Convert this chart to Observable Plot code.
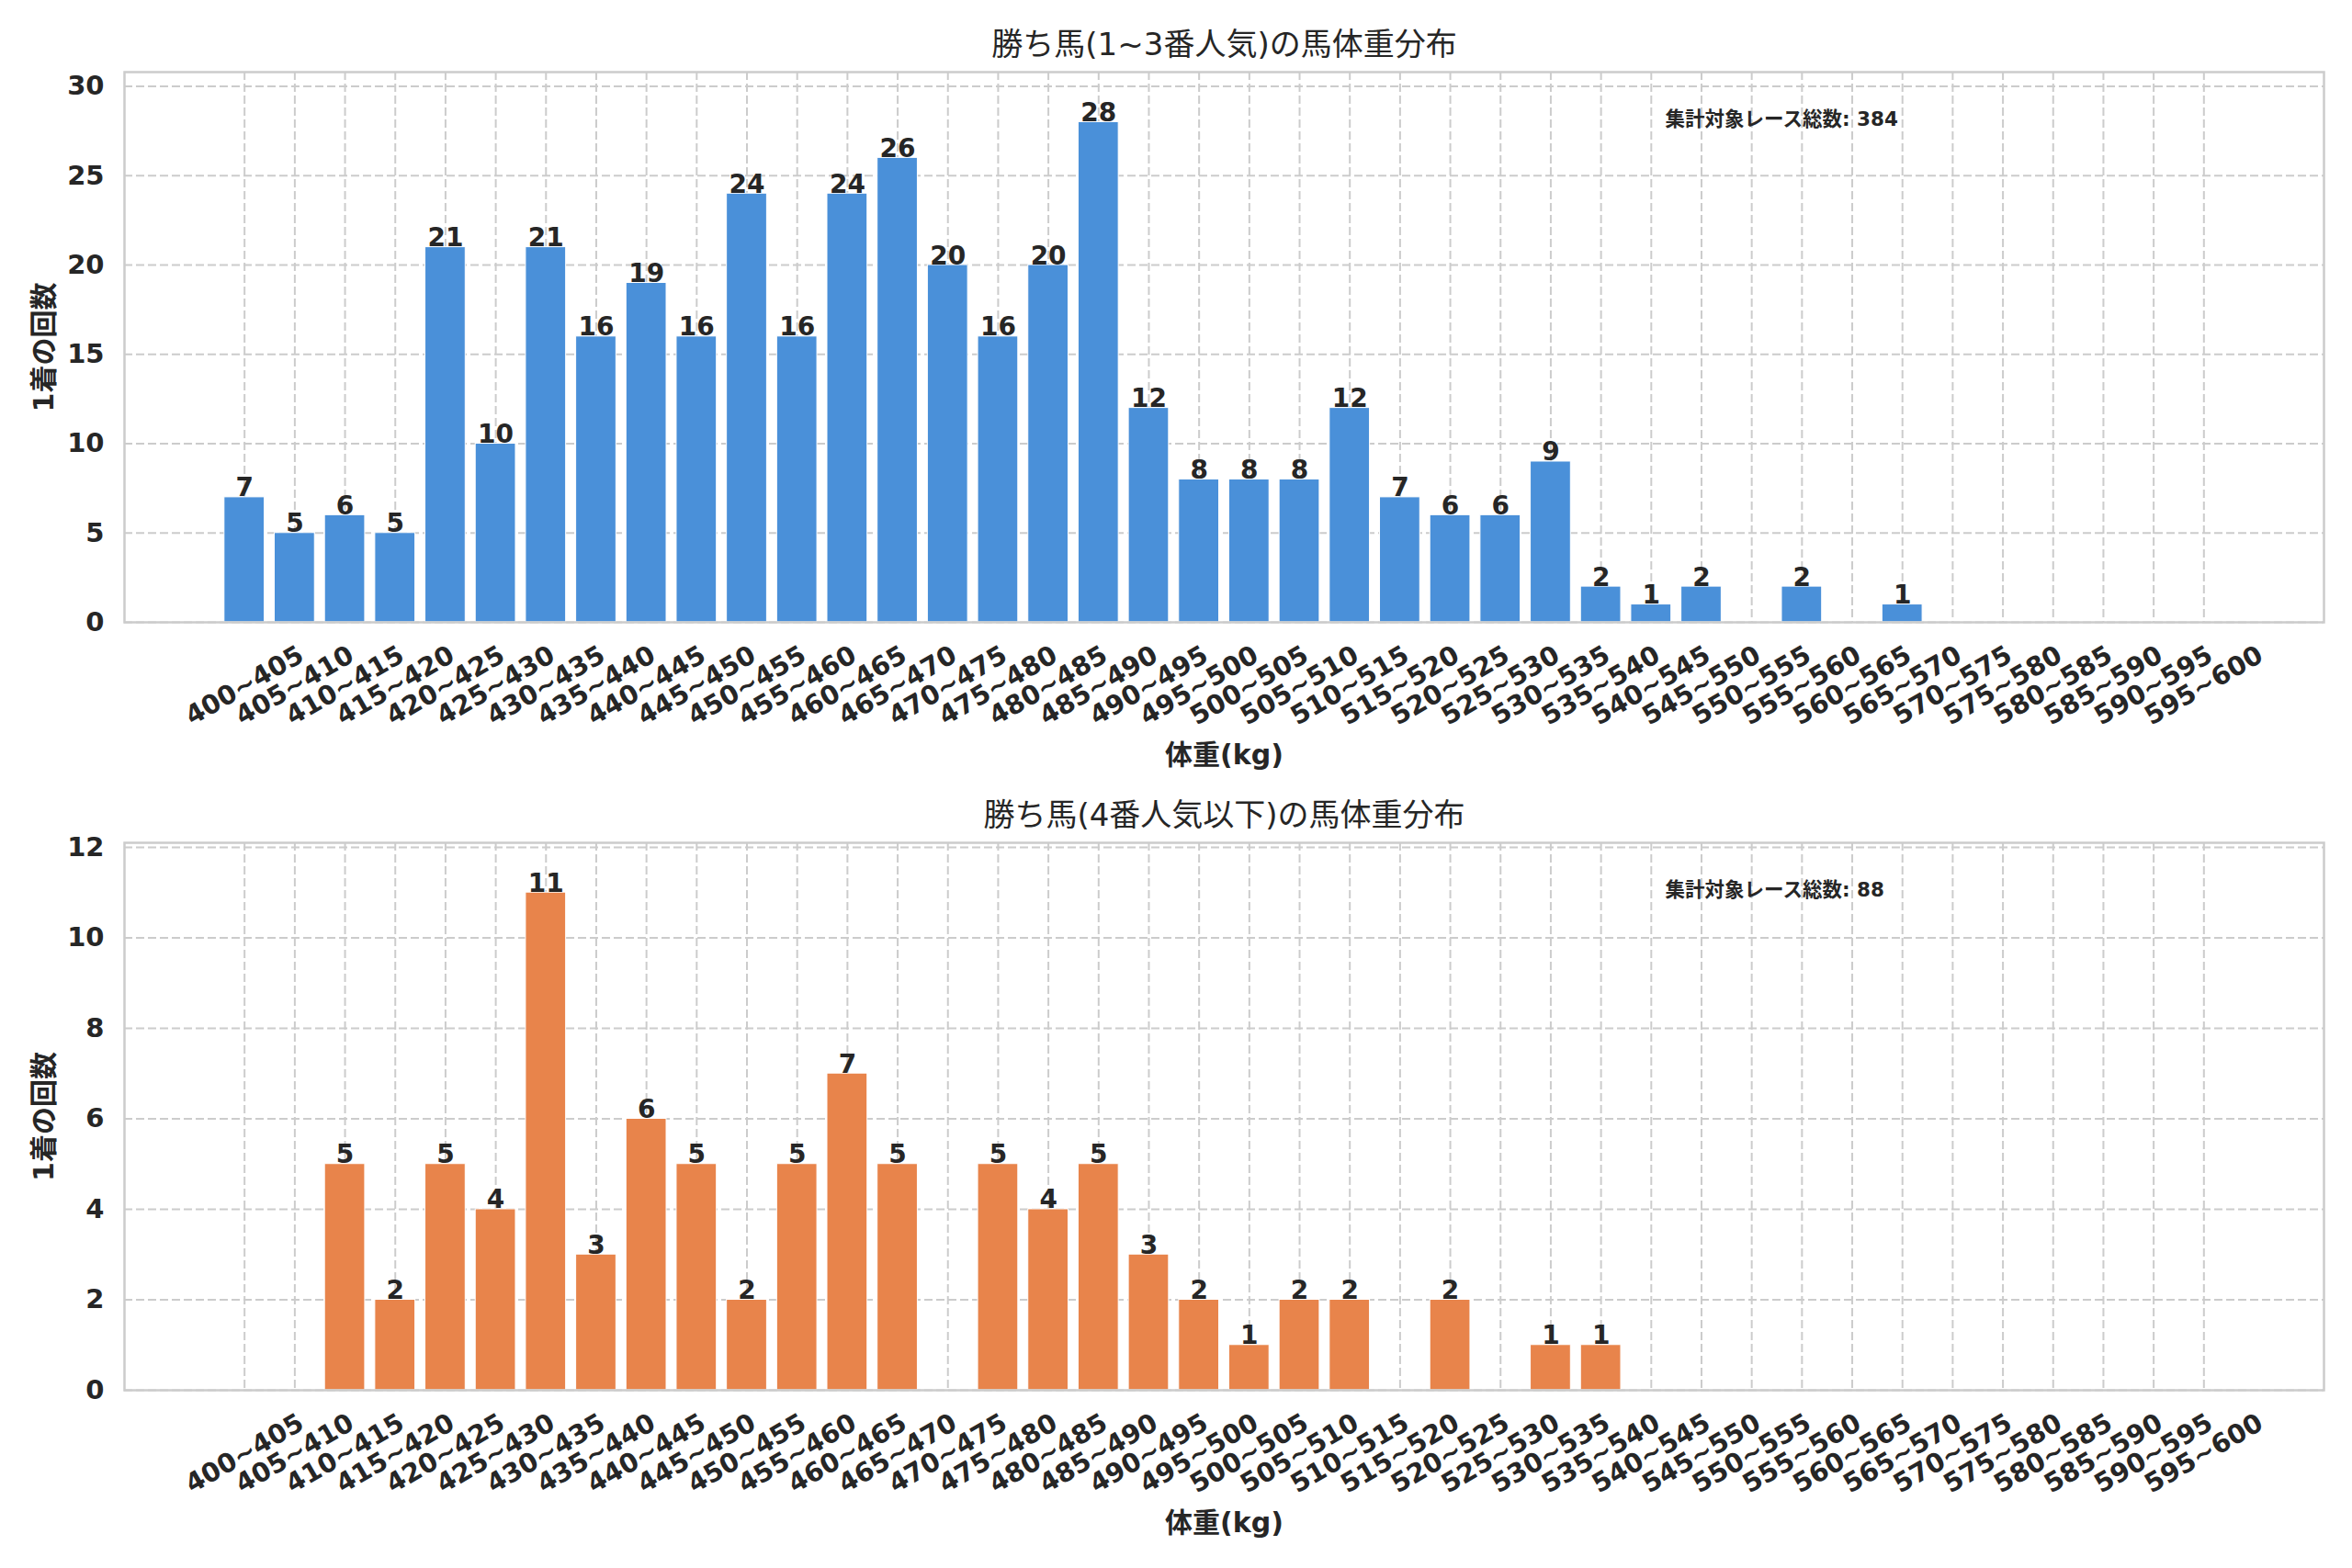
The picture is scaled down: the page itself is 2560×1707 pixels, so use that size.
<!DOCTYPE html>
<html><head><meta charset="utf-8">
<script src="https://cdn.jsdelivr.net/npm/d3@7"></script>
<script src="https://cdn.jsdelivr.net/npm/@observablehq/plot@0.6"></script>
<style>
html,body{margin:0;padding:0;background:#fff;}
#root{width:2560px;height:1707px;}
#root svg{display:block;}
</style></head><body><div id="root"></div>
<script>
const bins = ["400~405","405~410","410~415","415~420","420~425","425~430","430~435","435~440","440~445","445~450",
  "450~455","455~460","460~465","465~470","470~475","475~480","480~485","485~490","490~495","495~500",
  "500~505","505~510","510~515","515~520","520~525","525~530","530~535","535~540","540~545","545~550",
  "550~555","555~560","560~565","565~570","570~575","575~580","580~585","585~590","590~595","595~600"];
const topCounts = [7,5,6,5,21,10,21,16,19,16,24,16,24,26,20,16,20,28,12,8,8,8,12,7,6,6,9,2,1,2,0,2,0,1,0,0,0,0,0,0];
const bottomCounts = [0,0,5,2,5,4,11,3,6,5,2,5,7,5,0,5,4,5,3,2,1,2,2,0,2,0,1,1,0,0,0,0,0,0,0,0,0,0,0,0];
const topTitle = "勝ち馬(1~3番人気)の馬体重分布";
const bottomTitle = "勝ち馬(4番人気以下)の馬体重分布";
const xLabel = "体重(kg)";
const yLabel = "1着の回数";
const topNote = "集計対象レース総数: 384";
const bottomNote = "集計対象レース総数: 88";
const topTicks = [0,5,10,15,20,25,30];
const bottomTicks = [0,2,4,6,8,10,12];
const topColor = "#4A90D9";
const bottomColor = "#E8844B";

const FONT = '"DejaVu Sans", "Noto Sans CJK JP", sans-serif';
const INK = "#262626";

function panel({counts, color, title, note, ticks, yMax, height, marginTop, marginBottom}) {
  const data = bins.map((b, i) => ({bin: b, count: counts[i]}));
  const grid = {stroke: "#cccccc", strokeOpacity: 1, strokeWidth: 2, strokeDasharray: "9,4"};
  return Plot.plot({
    width: 2560, height, marginTop, marginBottom, marginLeft: 135, marginRight: 31,
    style: {fontFamily: FONT, color: INK, background: "transparent", overflow: "visible"},
    x: {type: "band", domain: bins, paddingInner: 0.2, paddingOuter: 1.99, align: 0.5, round: false, label: null},
    y: {domain: [0, yMax], label: null},
    marks: [
      Plot.gridY(ticks, grid),
      Plot.gridX(grid),
      Plot.barY(data, {x: "bin", y: "count", fill: color, stroke: "white", strokeWidth: 1}),
      Plot.frame({stroke: "#cccccc", strokeWidth: 2.5}),
      Plot.axisY(ticks, {tickSize: 0, tickPadding: 22, fontSize: 29, fontWeight: "bold", label: null}),
      Plot.axisX({tickSize: 0, tickRotate: -30, textAnchor: "middle", lineAnchor: "middle", tickPadding: 69, fontSize: 28.5, fontWeight: "bold", label: null}),
      Plot.text(data.filter(d => d.count > 0), {x: "bin", y: "count", text: d => String(d.count), lineAnchor: "bottom", dy: -1, fontSize: 28, fontWeight: "bold", fill: INK}),
      Plot.text([title], {frameAnchor: "top", dy: -29, lineAnchor: "middle", fontSize: 34, fill: INK}),
      Plot.text([xLabel], {frameAnchor: "bottom", dy: 145, lineAnchor: "middle", fontSize: 30, fontWeight: "bold", fill: INK}),
      Plot.text([yLabel], {frameAnchor: "left", dx: -87, rotate: -90, lineAnchor: "middle", textAnchor: "middle", fontSize: 30, fontWeight: "bold", fill: INK}),
      Plot.text([note], {frameAnchor: "top-left", dx: 1677, dy: 52, textAnchor: "start", lineAnchor: "middle", fontSize: 21.5, fontWeight: "bold", fill: INK})
    ]
  });
}

const root = document.getElementById("root");
root.append(panel({counts: topCounts, color: topColor, title: topTitle, note: topNote, ticks: topTicks, yMax: 30.8, height: 853, marginTop: 78, marginBottom: 176}));
root.append(panel({counts: bottomCounts, color: bottomColor, title: bottomTitle, note: bottomNote, ticks: bottomTicks, yMax: 12.1, height: 854, marginTop: 64, marginBottom: 194}));
</script>
</body></html>
